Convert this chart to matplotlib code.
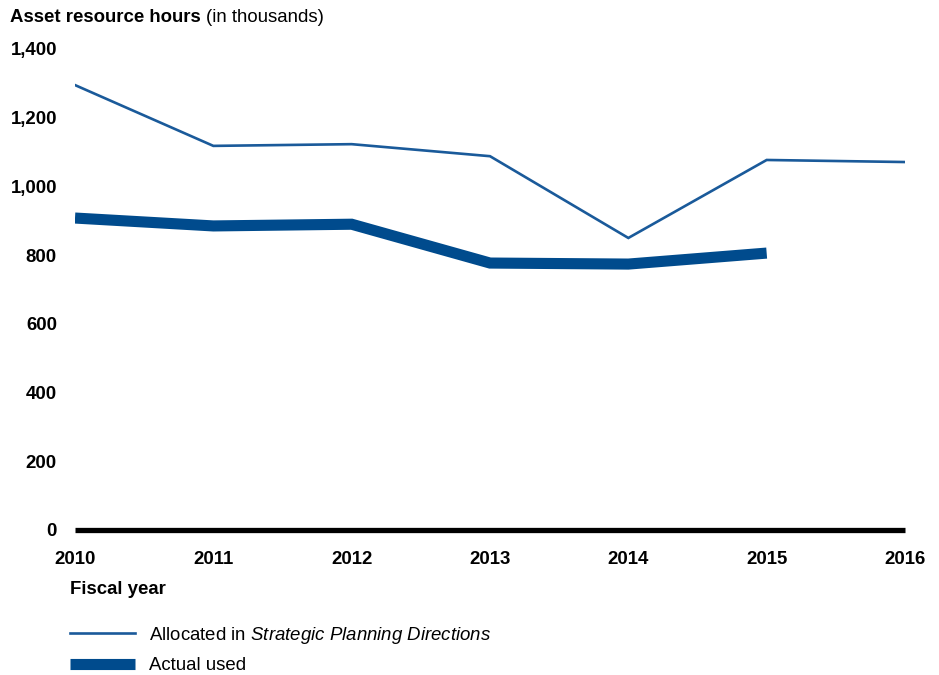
import matplotlib
matplotlib.use("Agg")
import matplotlib.pyplot as plt

years = [2010, 2011, 2012, 2013, 2014, 2015, 2016]
allocated = [1295, 1118, 1123, 1088, 850, 1077, 1071]
actual_years = [2010, 2011, 2012, 2013, 2014, 2015]
actual = [908, 885, 890, 777, 774, 806]
yticks = [0, 200, 400, 600, 800, 1000, 1200, 1400]
ytick_labels = ["0", "200", "400", "600", "800", "1,000", "1,200", "1,400"]

fam = "Liberation Sans"
plt.rcParams['font.family'] = [fam, 'DejaVu Sans']
plt.rcParams['mathtext.fontset'] = 'custom'
plt.rcParams['mathtext.rm'] = fam
plt.rcParams['mathtext.it'] = fam + ':italic'
plt.rcParams['mathtext.bf'] = fam + ':bold'

W, H = 939, 675
fig = plt.figure(figsize=(W/100, H/100), dpi=100)
left, right = 75/W, 905/W
bottom, top = (H-530)/H, (H-49)/H
ax = fig.add_axes([left, bottom, right-left, top-bottom])

fs = 13.4
thin_col = '#1a5a9a'
thick_col = '#004b8d'

l1, = ax.plot(years, allocated, color=thin_col, lw=1.9, solid_joinstyle='miter',
              label=r"Allocated in $\it{Strategic\ Planning\ Directions}$")
l2, = ax.plot(actual_years, actual, color=thick_col, lw=8, solid_joinstyle='miter',
              solid_capstyle='butt', label="Actual used")

ax.axhline(0, color='black', lw=3.8, clip_on=False, solid_capstyle='butt', zorder=5)

ax.set_xlim(2010, 2016)
ax.set_ylim(0, 1400)
ax.set_yticks(yticks)
ax.set_yticklabels(ytick_labels, fontsize=fs, fontweight='bold')
ax.set_xticks(years)
ax.set_xticklabels([str(y) for y in years], fontsize=fs, fontweight='bold')
ax.tick_params(axis='both', length=0)
ax.tick_params(axis='y', pad=13)
ax.tick_params(axis='x', pad=15)
for s in ax.spines.values():
    s.set_visible(False)

# Title
t1 = fig.text(10/W, 1-17/H, "Asset resource hours", fontsize=fs, fontweight='bold',
              ha='left', va='center')
fig.canvas.draw()
bb = t1.get_window_extent()
fig.text((bb.x1 + 5)/W, 1-17/H, "(in thousands)", fontsize=fs, ha='left', va='center')

fig.text(70/W, 1-590/H, "Fiscal year", fontsize=fs, fontweight='bold', ha='left', va='center')

leg = fig.legend(handles=[l1, l2], loc='upper left', bbox_to_anchor=(70/W, 1-625/H),
                 frameon=False, fontsize=fs, handlelength=3.47, handletextpad=0.8,
                 labelspacing=0.6, borderaxespad=0, borderpad=0)

fig.savefig("out.png", dpi=100)
